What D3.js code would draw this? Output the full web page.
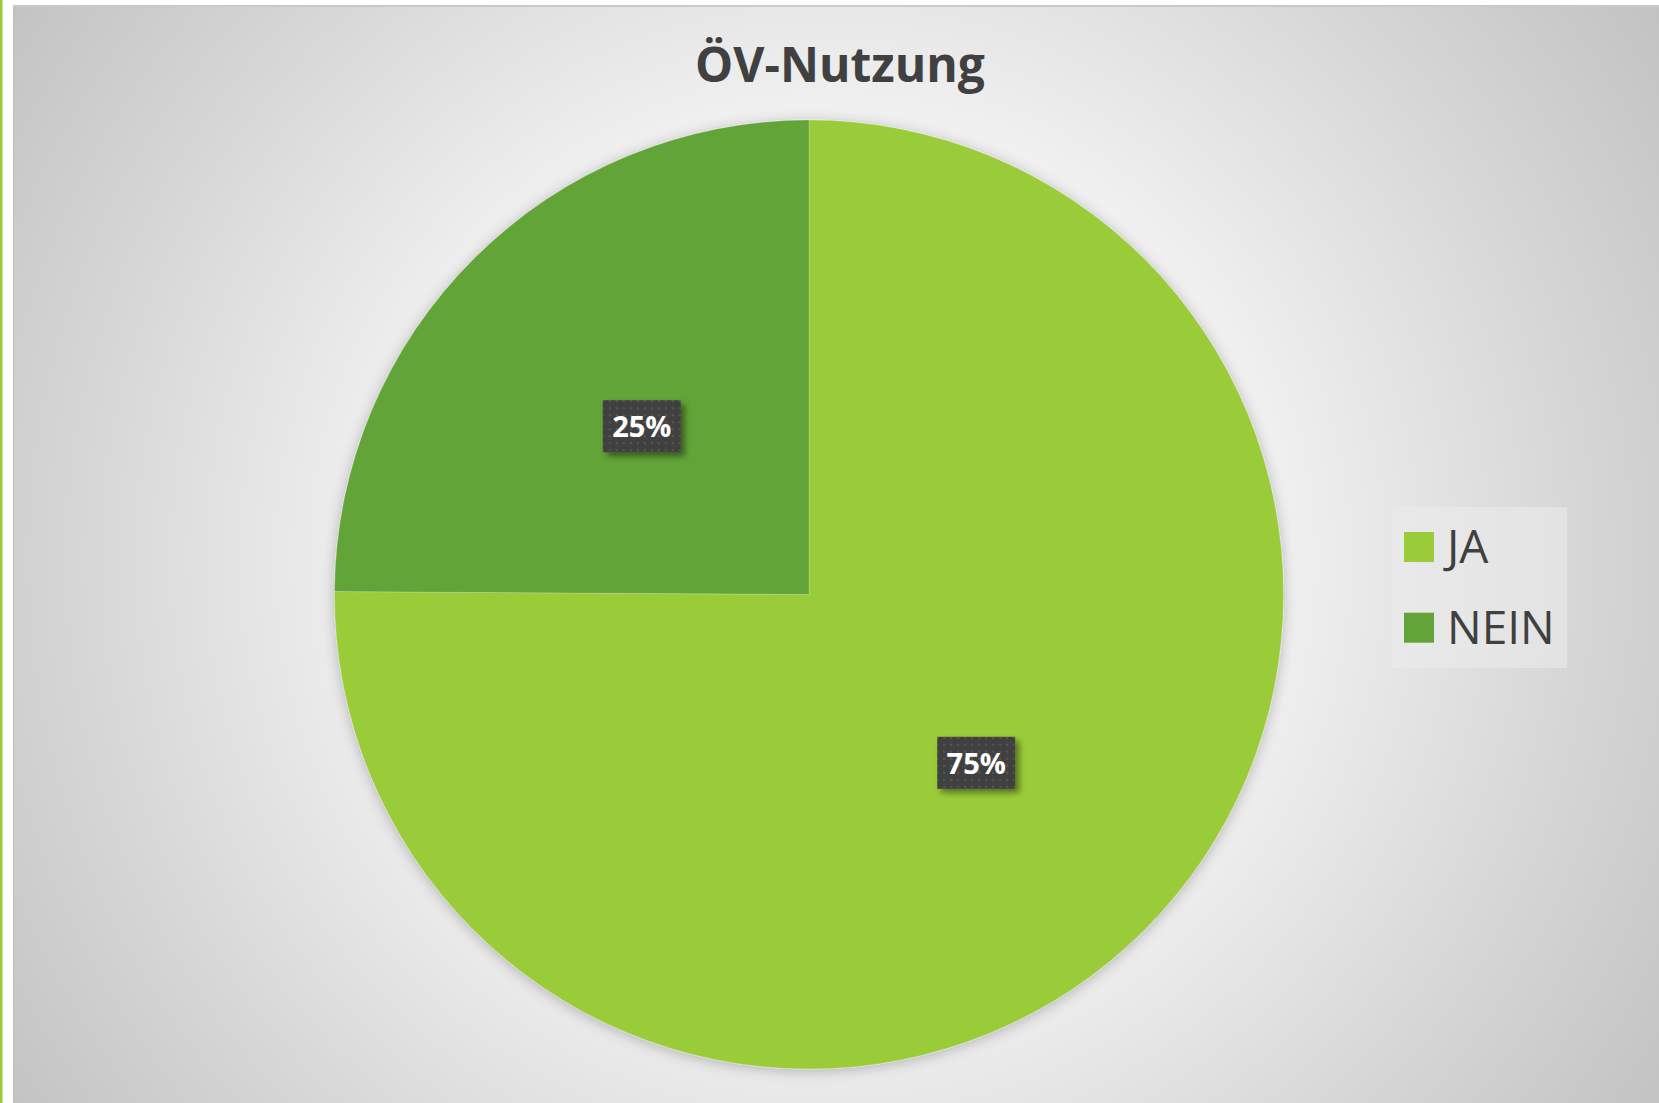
<!DOCTYPE html>
<html>
<head>
<meta charset="utf-8">
<script src="https://cdn.jsdelivr.net/npm/d3@7"></script>
<style>
html,body{margin:0;padding:0;background:#fff;overflow:hidden;}
svg{display:block;}
</style>
</head>
<body>
<script>
const title = "ÖV-Nutzung";
const categories = ["JA", "NEIN"];
const values = [75.1, 24.9];
const colors = ["#9acb38", "#62a437"];

const W = 1659, H = 1103;
const svg = d3.select("body").append("svg").attr("width", W).attr("height", H);
const defs = svg.append("defs");

const bg = defs.append("radialGradient").attr("id", "bg")
  .attr("gradientUnits", "userSpaceOnUse")
  .attr("cx", 830).attr("cy", 560).attr("r", 1000)
  .attr("fx", 830).attr("fy", 560);
bg.append("stop").attr("offset", "0").attr("stop-color", "#f7f7f7");
bg.append("stop").attr("offset", "0.45").attr("stop-color", "#f0f0f0");
bg.append("stop").attr("offset", "0.75").attr("stop-color", "#d6d6d6");
bg.append("stop").attr("offset", "1").attr("stop-color", "#c2c2c2");

const sh = defs.append("filter").attr("id", "pieShadow")
  .attr("x", "-10%").attr("y", "-10%").attr("width", "120%").attr("height", "120%");
sh.append("feGaussianBlur").attr("in", "SourceAlpha").attr("stdDeviation", 7).attr("result", "b");
sh.append("feOffset").attr("in", "b").attr("dx", 0).attr("dy", 2).attr("result", "o");
sh.append("feComponentTransfer").attr("in", "o").attr("result", "t")
  .append("feFuncA").attr("type", "linear").attr("slope", 0.25);
const m1 = sh.append("feMerge");
m1.append("feMergeNode").attr("in", "t");
m1.append("feMergeNode").attr("in", "SourceGraphic");

const lsh = defs.append("filter").attr("id", "lblShadow")
  .attr("x", "-20%").attr("y", "-20%").attr("width", "150%").attr("height", "160%");
lsh.append("feGaussianBlur").attr("in", "SourceAlpha").attr("stdDeviation", 3).attr("result", "b");
lsh.append("feOffset").attr("in", "b").attr("dx", 4).attr("dy", 4).attr("result", "o");
lsh.append("feComponentTransfer").attr("in", "o").attr("result", "t")
  .append("feFuncA").attr("type", "linear").attr("slope", 0.45);
const m2 = lsh.append("feMerge");
m2.append("feMergeNode").attr("in", "t");
m2.append("feMergeNode").attr("in", "SourceGraphic");

const pat = defs.append("pattern").attr("id", "dots")
  .attr("patternUnits", "userSpaceOnUse").attr("width", 7).attr("height", 7);
pat.append("rect").attr("width", 7).attr("height", 7).attr("fill", "#404040");
pat.append("rect").attr("x", 2).attr("y", 2).attr("width", 2).attr("height", 2).attr("fill", "#575757");

// page decorations
svg.append("rect").attr("x", 0).attr("y", 0).attr("width", 2.5).attr("height", H).attr("fill", "#9acb38");
svg.append("rect").attr("x", 13).attr("y", 5).attr("width", W - 13).attr("height", 2).attr("fill", "#c9c9c9");
svg.append("rect").attr("x", 13).attr("y", 7).attr("width", W - 13).attr("height", H - 7).attr("fill", "url(#bg)");
svg.append("rect").attr("x", 13).attr("y", 7).attr("width", 1).attr("height", H - 7).attr("fill", "#bdbdbd");

// title
svg.append("text").attr("x", 840).attr("y", 82)
  .attr("text-anchor", "middle")
  .attr("font-family", "'Open Sans', sans-serif").attr("font-weight", 700)
  .attr("font-size", 48).attr("fill", "#404040").text(title);

// pie
const cx = 809, cy = 594.5, r = 474.5;
const data = categories.map((c, i) => ({ cat: c, value: values[i], color: colors[i] }));
const pie = d3.pie().sort(null).value(d => d.value);
const arcs = pie(data);
const arc = d3.arc().innerRadius(0).outerRadius(r);
const fmt = d3.format(".0%");

const g = svg.append("g").attr("transform", `translate(${cx},${cy})`);
g.append("g").attr("filter", "url(#pieShadow)")
  .selectAll("path").data(arcs).join("path")
  .attr("d", arc).attr("fill", d => d.data.color)
  .attr("stroke", "rgba(255,255,255,0.2)").attr("stroke-width", 1);

const lbl = g.selectAll("g.lbl").data(arcs).join("g").attr("class", "lbl")
  .attr("transform", d => { const [x, y] = arc.centroid(d); return `translate(${x},${y})`; });
lbl.append("rect").attr("x", -39).attr("y", -26).attr("width", 78).attr("height", 52)
  .attr("fill", "url(#dots)").attr("filter", "url(#lblShadow)");
lbl.append("text").attr("text-anchor", "middle").attr("y", 11)
  .attr("font-family", "'Open Sans', sans-serif").attr("font-weight", 700)
  .attr("font-size", 29).attr("fill", "#ffffff")
  .text(d => fmt(Math.round(d.data.value) / 100));

// legend
const lg = svg.append("g");
lg.append("rect").attr("x", 1392).attr("y", 507).attr("width", 175).attr("height", 161)
  .attr("fill", "#ebebeb").attr("opacity", 0.6);
const items = lg.selectAll("g.item").data(data).join("g").attr("class", "item")
  .attr("transform", (d, i) => `translate(1404,${532 + i * 80.7})`);
items.append("rect").attr("width", 30).attr("height", 30).attr("fill", d => d.color);
items.append("text").attr("x", 43).attr("y", 31)
  .attr("font-family", "'Open Sans', sans-serif").attr("font-size", 46)
  .attr("fill", "#404040").text(d => d.cat);
</script>
</body>
</html>
